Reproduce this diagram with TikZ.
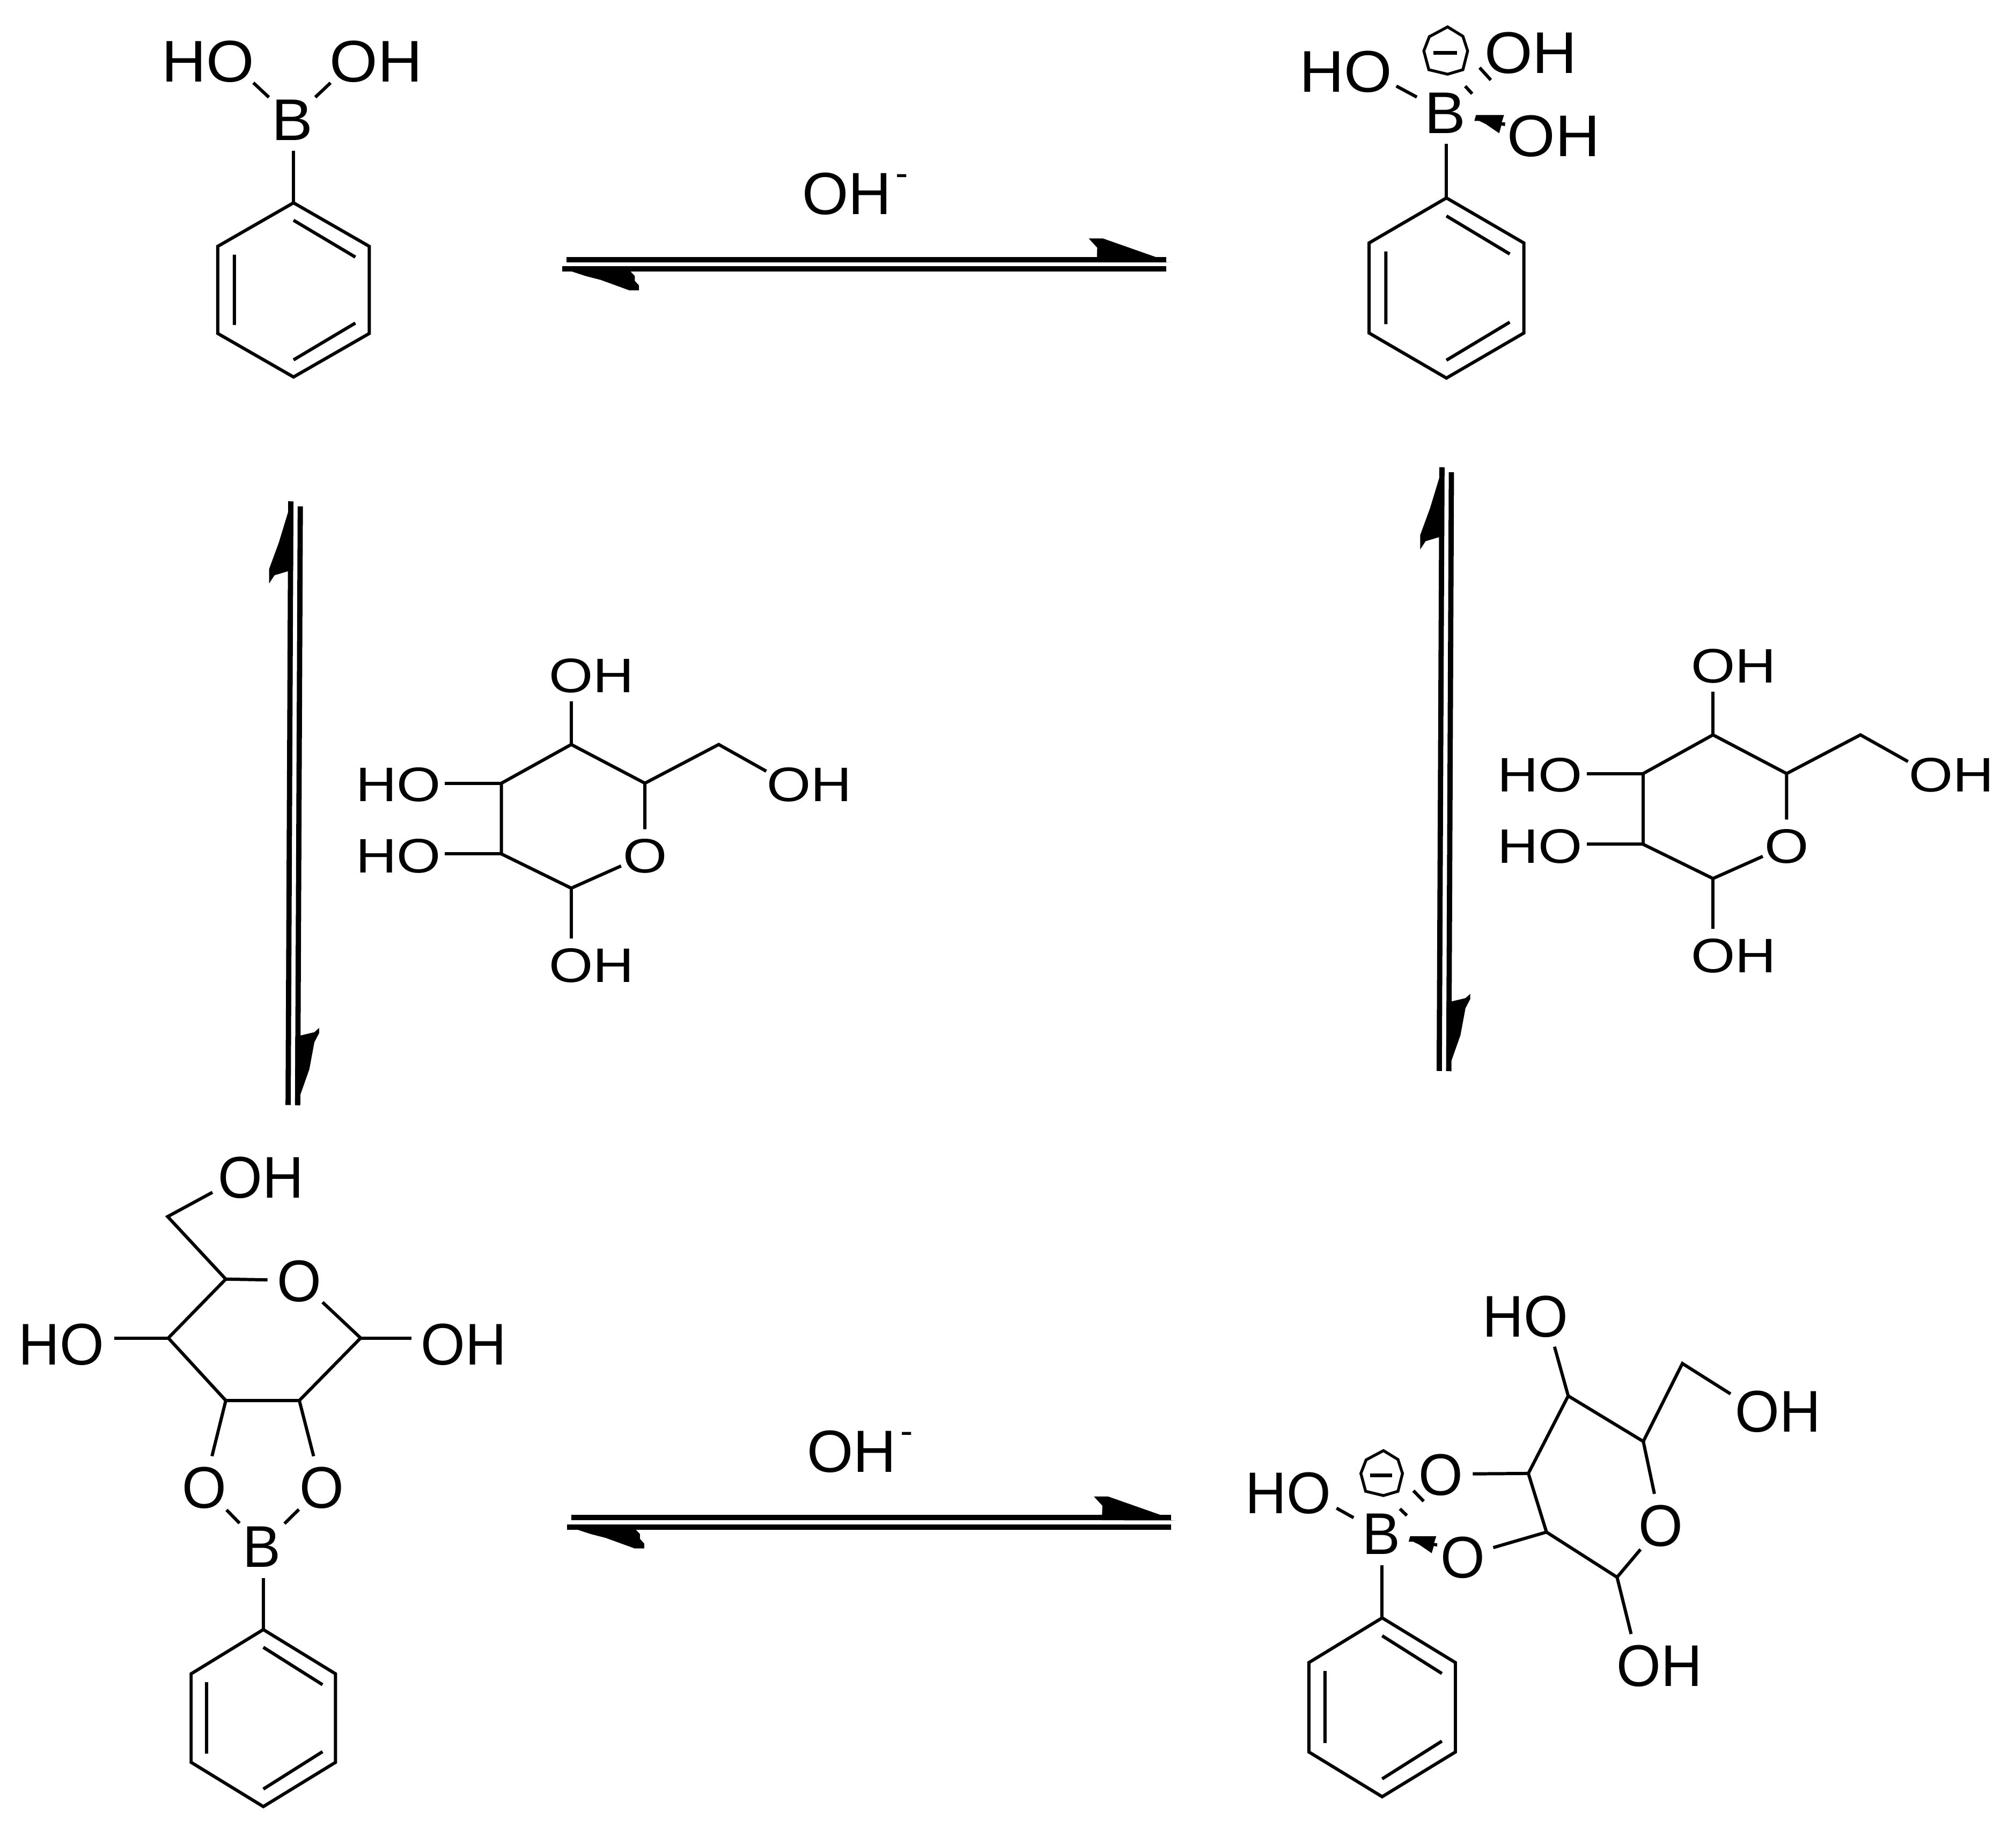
\documentclass[tikz,border=0pt]{standalone}
\usepackage{fontspec}
\setmainfont[FakeStretch=1.05]{Liberation Sans}
\newfontfamily\glufont[FakeStretch=1.17]{Liberation Sans}
\newfontfamily\lowfont[FakeStretch=.97]{Liberation Sans}
\newfontfamily\reagentfont{Liberation Sans}
\newcommand\lbl[1]{\raisebox{-.358em}[0pt][0pt]{\makebox[0pt]{#1}}}
\tikzset{
	bond/.style={line width=1.7pt},
	atom/.style={circle,inner sep=0,minimum size=1.174cm,font=\fontsize{31.2}{36}\selectfont},
	lowatom/.style={atom,font=\lowfont\fontsize{31.2}{36}\selectfont},
	sugaratom/.style={circle,inner sep=0,minimum size=.96cm,font=\glufont\fontsize{25.7}{30}\selectfont},
	reagent/.style={circle,inner sep=0,font=\reagentfont\fontsize{31.6}{36}\selectfont},
	eqbar/.style={line width=.098cm},
	eqhead/.style={fill=black}
}
\newcommand\PhenylRing[5]{
	\begin{scope}[shift={(#2,#3)},xscale=#4,yscale=#5]
		\coordinate (#1a) at (0,0);
		\coordinate (#1b) at (1,.25);
		\coordinate (#1c) at (1,.75);
		\coordinate (#1d) at (0,1);
		\coordinate (#1e) at (-1,.75);
		\coordinate (#1f) at (-1,.25);
		\draw[bond] (#1a)--(#1b)--(#1c)--(#1d)--(#1e)--(#1f)--cycle;
		\draw[bond] (0,.1)--(.815,.311) (.815,.689)--(0,.9) (-.78,.297)--(-.78,.7);
	\end{scope}
}
\newcommand\NegCharge[2]{
	\begin{scope}[shift={(#1)},scale=#2]
		\draw[line width=1.5pt] (0,-18.7)--(11.9,-11.4)--(15.6,0)--(11.9,14.6)--(0,18.1)--(-14.6,14.6)--(-18.5,0)--(-14.2,-11.1)--cycle;
		\draw[line width=2pt] (-10.9,1.6)--(7.2,1.6);
	\end{scope}
}
\newcommand\WedgeMark[2]{
	\fill[shift={(#1)},scale=#2] (0,0)--(21.8,0)--(20,5.6)--(22.7,5.9)--(22.5,8.6)--(19.7,8.2)--(18,14.2)--(7.5,7)--(2.5,4.6)--(-1.3,4.6)--cycle;
}
\newcommand\EqArrowH[2]{
	\begin{scope}[shift={(#2)}]
		\coordinate (#1p) at (440.5,201.85);
		\coordinate (#1q) at (907,201.85);
		\coordinate (#1r) at (907,209.1);
		\coordinate (#1s) at (437.1,209.1);
		\draw[eqbar] (#1p)--(#1q);
		\draw[eqbar] (#1r)--(#1s);
		\fill[eqhead] (846.8,185.4)--(857.8,185.4)--(899.3,200)--(907,203.9)--(911,204)--(853,203.9)--(853.4,192.6)--cycle;
		\fill[eqhead] (444.5,211)--(490.3,211)--(493.7,214.6)--(493.7,218.3)--(497,222)--(497,225.8)--(489.6,225.8)--(467.1,217.6)--(455.4,214.6)--cycle;
	\end{scope}
}
\newcommand\EqArrowV[2]{
	\begin{scope}[shift={(#2)}]
		\coordinate (#1p) at (226.2,389.8);
		\coordinate (#1q) at (224.1,859.2);
		\coordinate (#1r) at (231.5,859.4);
		\coordinate (#1s) at (233.55,393.7);
		\draw[eqbar] (#1p)--(#1q);
		\draw[eqbar] (#1r)--(#1s);
		\fill[eqhead] (226,397.8)--(224.2,397.8)--(216.9,421.8)--(209.3,442.5)--(209.3,453.7)--(213.5,447.3)--(224.2,444.1)--(228,444)--(228,397)--cycle;
		\fill[eqhead] (229.7,805.2)--(233.6,805.2)--(244.5,802.6)--(248.2,799.3)--(248.2,803.3)--(244.5,810.4)--(240.6,831.4)--(233.6,851.2)--(229.5,859.4)--cycle;
	\end{scope}
}
\newcommand\GlucoseUnit[2]{
	\begin{scope}[shift={(#2)}]
		\coordinate (#1c4) at (444.3,578.9);
		\coordinate (#1c5) at (501.6,609);
		\coordinate (#1c6) at (559,578.9);
		\coordinate (#1c1) at (444.3,690.6);
		\coordinate (#1c2) at (390,664);
		\coordinate (#1c3) at (390,609);
		\node[sugaratom] (#1o) at (501.6,665.1) {\lbl{O}};
		\node[sugaratom] (#1oa) at (444.3,524.9) {\lbl{O\rlap{H}}};
		\node[sugaratom] (#1ob) at (613.7,609.6) {\lbl{O\rlap{H}}};
		\node[sugaratom] (#1oc) at (325.7,609.6) {\lbl{\llap{H}O}};
		\node[sugaratom] (#1od) at (325.7,665.1) {\lbl{\llap{H}O}};
		\node[sugaratom] (#1oe) at (444.3,750.2) {\lbl{O\rlap{H}}};
		\draw[bond] (#1o)--(#1c5)--(#1c4)--(#1c3)--(#1c2)--(#1c1)--(#1o);
		\draw[bond] (#1c5)--(#1c6)--(#1ob);
		\draw[bond] (#1c4)--(#1oa);
		\draw[bond] (#1c3)--(#1oc.east |- #1c3);
		\draw[bond] (#1c2)--(#1od.east |- #1c2);
		\draw[bond] (#1c1)--(#1oe);
	\end{scope}
}
\begin{document}
\begin{tikzpicture}[x=.0239668cm,y=-.0239668cm]
\useasboundingbox (0,0) rectangle (1568,1424.9);
\node[atom] (ba) at (227.2,92.6) {\lbl{B}};
\node[atom] (oa) at (179,47.4) {\lbl{\llap{H}O}};
\node[atom] (ob) at (275.1,47.4) {\lbl{O\rlap{H}}};
\PhenylRing{pa}{228.3}{157.7}{59}{135.7}
\draw[bond] (ba)--(oa);
\draw[bond] (ba)--(ob);
\draw[bond] (paa |- ba.south)--(paa);
\node[atom] (bb) at (1123.8,87.2) {\lbl{B}};
\node[atom] (oc) at (1064.2,55.2) {\lbl{\llap{H}O}};
\node[atom] (od) at (1173.2,40.5) {\lbl{O\rlap{H}}};
\node[atom] (oe) at (1191,105.1) {\lbl{O\rlap{H}}};
\PhenylRing{pb}{1125}{153.9}{60.4}{140.2}
\draw[bond] (bb)--(oc);
\draw[bond] (pba |- bb.south)--(pba);
\draw[bond] (1150.8,52.6)--(1159.5,62.2) (1139.6,67)--(1145,72.9);
\WedgeMark{1148,89.4}{1}
\NegCharge{1125.9,39.6}{1}
\EqArrowH{ea}{0,0}
\node[reagent] (ha) at (658.6,150.2) {\lbl{OH\rlap{\hspace{.08cm}\raisebox{.53cm}{\fontsize{20}{20}\selectfont -}}}};
\EqArrowV{eb}{0,0}
\EqArrowV{ec}{895.3,-26.5}
\GlucoseUnit{ga}{0,0}
\GlucoseUnit{gb}{888,-7.5}
\EqArrowH{ed}{4,978.2}
\node[reagent] (hb) at (662.3,1128.3) {\lbl{OH\rlap{\hspace{.08cm}\raisebox{.53cm}{\fontsize{20}{20}\selectfont -}}}};
\coordinate (cf) at (130.4,946);
\coordinate (ce) at (175.6,994.6);
\coordinate (cd) at (130.9,1040.4);
\coordinate (cc) at (175.6,1089);
\coordinate (cb) at (232.8,1089);
\coordinate (ca) at (280.5,1040.4);
\node[lowatom] (of) at (232.8,995.6) {\lbl{O}};
\node[lowatom] (og) at (187,915.3) {\lbl{O\rlap{H}}};
\node[lowatom] (oh) at (63.9,1044.8) {\lbl{\llap{H}O}};
\node[lowatom] (oi) at (344.6,1044.8) {\lbl{O\rlap{H}}};
\node[lowatom] (oj) at (158.9,1156.3) {\lbl{O}};
\node[lowatom] (ok) at (250.1,1156.3) {\lbl{O}};
\node[lowatom] (bc) at (203.6,1202.1) {\lbl{B}};
\PhenylRing{pc}{204.8}{1267.1}{56.5}{137.8}
\draw[bond] (of)--(ce)--(cd)--(cc)--(cb)--(ca)--(of);
\draw[bond] (ce)--(cf)--(og);
\draw[bond] (cd)--(oh.east |- cd);
\draw[bond] (ca)--(oi.west |- ca);
\draw[bond] (cc)--(oj);
\draw[bond] (cb)--(ok);
\draw[bond] (oj)--(bc);
\draw[bond] (ok)--(bc);
\draw[bond] (pca |- bc.south)--(pca);
\coordinate (dd) at (1188.7,1145.7);
\coordinate (dc) at (1202.8,1191.3);
\coordinate (db) at (1257.7,1226.4);
\coordinate (de) at (1219.7,1085.4);
\coordinate (df) at (1278.1,1120.8);
\coordinate (dg) at (1308.5,1060.2);
\node[lowatom] (ol) at (1291.9,1185.8) {\lbl{O}};
\node[lowatom] (om) at (1202.4,1023.3) {\lbl{\llap{H}O}};
\node[lowatom] (on) at (1366.9,1097.1) {\lbl{O\rlap{H}}};
\node[lowatom] (oo) at (1274.6,1294.6) {\lbl{O\rlap{H}}};
\node[lowatom] (op) at (1120.7,1146.2) {\lbl{O}};
\node[lowatom] (oq) at (1137.6,1210.3) {\lbl{O}};
\node[lowatom] (or) at (1017.9,1160.6) {\lbl{\llap{H}O}};
\node[lowatom] (bd) at (1074.4,1192.2) {\lbl{B}};
\PhenylRing{pd}{1075}{1258}{57}{139.1}
\draw[bond] (ol)--(df)--(de)--(dd)--(dc)--(db)--(ol);
\draw[bond] (df)--(dg)--(on);
\draw[bond] (de)--(om);
\draw[bond] (dd)--(op);
\draw[bond] (dc)--(oq);
\draw[bond] (db)--(oo);
\draw[bond] (bd)--(or);
\draw[bond] (pda |- bd.south)--(pda);
\draw[bond] (1099.3,1159.1)--(1107.3,1167.3) (1088.8,1173.2)--(1094.2,1178.4);
\WedgeMark{1096.8,1194.5}{.93}
\NegCharge{1076,1145.7}{.95}
\end{tikzpicture}
\end{document}
